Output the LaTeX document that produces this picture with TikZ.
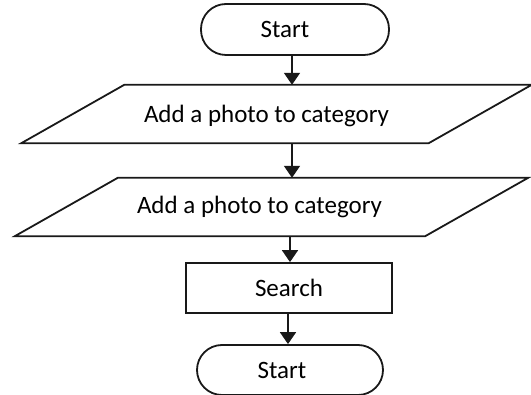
\documentclass[tikz,border=0pt]{standalone}
\usepackage{fontspec}
\setmainfont{Carlito}
\usetikzlibrary{arrows.meta,calc}

\tikzset{
  every node/.style={font=\fontsize{25}{30}\selectfont},
  flow/.style={line width=1.8pt, draw=black!90},
  terminal/.style={flow, rounded corners=25pt, minimum width=188pt, minimum height=51pt, inner sep=0pt},
  process/.style={flow, minimum width=206pt, minimum height=50pt, inner sep=0pt},
  iobox/.style={minimum height=58pt, inner sep=0pt},
  link/.style={flow, -{Triangle[width=16pt,length=12pt]}}
}

% slant of the data (parallelogram) boxes
\def\slant{51.5}

\begin{document}
\begin{tikzpicture}[x=1pt, y=-1pt]
  \useasboundingbox (0,0) rectangle (531,395);

  % nodes
  \node[terminal, label={[xshift=-10pt]center:Start}] (begin) at (295,29.5) {};
  \node[iobox, minimum width=407pt, label={[xshift=-10pt, yshift=-2pt]center:Add a photo to category}] (add1) at (276.5,114) {};
  \node[iobox, minimum width=410pt, label={[xshift=-12pt]center:Add a photo to category}] (add2) at (271.5,207) {};
  \node[process] (search) at (289,288) {Search};
  \node[terminal, minimum width=186pt, minimum height=50pt, label={[xshift=-8pt]center:Start}] (finish) at (290,370) {};

  % parallelogram outlines of the data boxes
  \foreach \n in {add1, add2}{
    \draw[flow] ($(\n.north west)+(\slant,0)$) -- ($(\n.north east)+(\slant,0)$)
      -- ($(\n.south east)-(\slant,0)$) -- ($(\n.south west)-(\slant,0)$) -- cycle;
  }

  % vertical guide lines for the connectors
  \coordinate (spineA) at (292,0);
  \coordinate (spineB) at (290,0);
  \coordinate (spineC) at (288,0);

  % connectors
  \draw[link] (begin.south -| spineA) -- (add1.north -| spineA);
  \draw[link] (add1.south -| spineA) -- (add2.north -| spineA);
  \draw[link] (add2.south -| spineB) -- (search.north -| spineB);
  \draw[link] (search.south -| spineC) -- (finish.north -| spineC);
\end{tikzpicture}
\end{document}
